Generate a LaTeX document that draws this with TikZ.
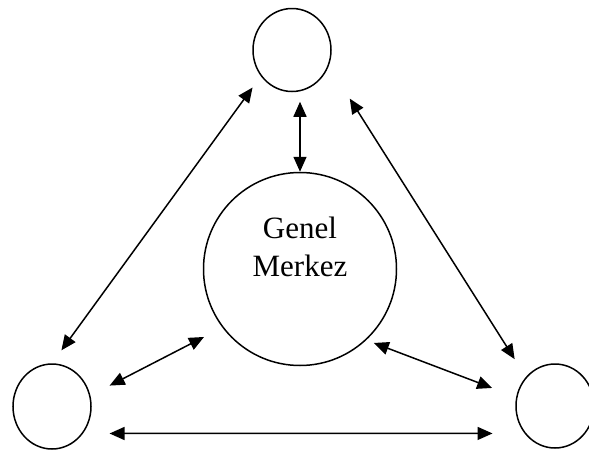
\documentclass[tikz,border=0pt]{standalone}
\usepackage{fontspec}
\setmainfont{Liberation Serif}
\usetikzlibrary{arrows.meta,shapes.geometric,calc}

\tikzset{
  ring/.style={draw, line width=1.5pt, ellipse, inner sep=0pt},
  link/.style={line width=1.5pt, {Triangle[length=15pt,width=13pt]}-{Triangle[length=15pt,width=13pt]}},
  word/.style={anchor=base, font=\fontsize{31}{38}\selectfont}
}

\begin{document}
\begin{tikzpicture}[x=1pt, y=-1pt]
  \useasboundingbox (0,0) rectangle (589,450);

  % outer units and the central hub
  \node[ring, minimum width=78pt, minimum height=83pt] (T) at (292,50) {};
  \node[ring, minimum width=78pt, minimum height=85pt] (BL) at (52,406.5) {};
  \node[ring, minimum width=78pt, minimum height=84pt] (BR) at (555,406) {};
  \node[ring, minimum width=193pt, minimum height=193pt] (C) at (300,269) {};

  \node[word] (genel) at (300,238) {Genel};
  \node[word] (merkez) at (300,276) {Merkez};

  % two-way links
  \draw[link, shorten >=9.5pt] (C.north) -- (C.north |- T.south);
  \draw[link, shorten <=16pt, shorten >=14pt] (BL.north) -- (T.220);
  \draw[link, shorten <=39pt, shorten >=21pt] (T.337) -- (BR.135);
  \draw[link, shorten <=21.6pt, shorten >=20.6pt] (BL.16) -- (C.217);
  \draw[link, shorten <=8pt, shorten >=25.6pt] (C.313) -- (BR.167);
  \draw[link, shorten <=26.5pt, shorten >=32pt] (BL.-41) -- (BR.222);
\end{tikzpicture}
\end{document}
